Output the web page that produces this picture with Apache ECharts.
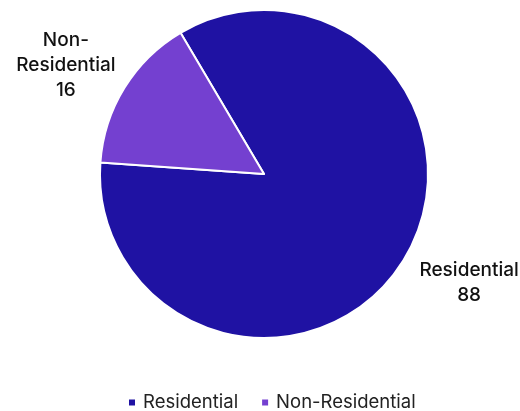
<!DOCTYPE html>
<html>
<head>
<meta charset="utf-8">
<script src="https://cdn.jsdelivr.net/npm/echarts@6/dist/echarts.min.js"></script>
<style>
  html, body { margin: 0; padding: 0; background: #ffffff; }
  #chart { width: 520px; height: 411px; }
</style>
</head>
<body>
<div id="chart"></div>
<script>
// Building counts by type
const categories = ['Residential', 'Non-Residential'];
const counts = [88, 16];
const sliceColors = ['#1f12a3', '#7440d0'];

const chart = echarts.init(document.getElementById('chart'), null, { renderer: 'canvas' });

const fontFamily = 'Inter, "Open Sans", "Liberation Sans", sans-serif';

chart.setOption({
  animation: false,
  color: sliceColors,
  legend: {
    bottom: -1,
    left: 122,
    padding: [0, 5],
    icon: 'rect',
    itemWidth: 8,
    itemHeight: 8,
    itemGap: 22,
    textStyle: {
      fontFamily: fontFamily,
      fontSize: 18.5,
      color: '#222222',
      padding: [0, 0, 0, 2]
    },
    data: categories
  },
  series: [{
    type: 'pie',
    center: [264, 174],
    radius: 164,
    startAngle: 120.6,
    clockwise: true,
    avoidLabelOverlap: false,
    itemStyle: { borderColor: '#ffffff', borderWidth: 2 },
    label: {
      show: true,
      position: 'outside',
      overflow: 'none',
      formatter: function (p) {
        const name = p.name === 'Non-Residential' ? 'Non-\nResidential' : p.name;
        return name + '\n' + p.value;
      },
      fontFamily: fontFamily,
      fontSize: 19,
      fontWeight: 500,
      lineHeight: 25,
      color: '#111111',
      align: 'center'
    },
    labelLine: { show: false, length: 43, length2: 24 },
    labelLayout: function () {
      return { align: 'center', verticalAlign: 'middle' };
    },
    emphasis: { disabled: true },
    data: categories.map(function (c, i) {
      const item = { name: c, value: counts[i] };
      if (i === 1) {
        item.labelLine = { show: false, length: 43, length2: 17 };
      }
      return item;
    })
  }]
});
</script>
</body>
</html>
